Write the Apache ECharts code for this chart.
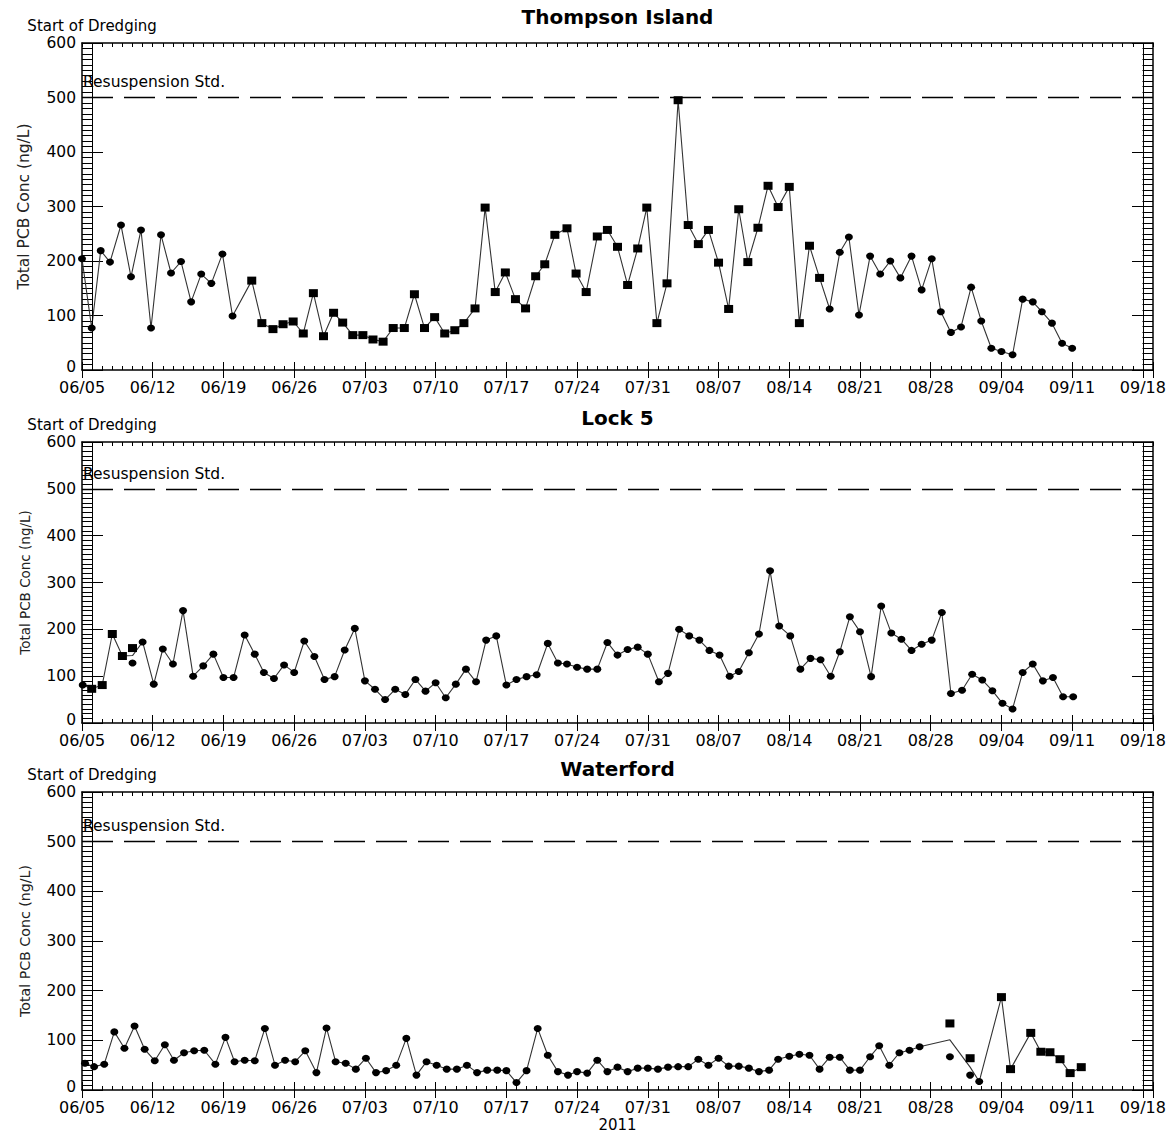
<!DOCTYPE html>
<html><head><meta charset="utf-8">
<script src="https://cdn.jsdelivr.net/npm/echarts@6/dist/echarts.min.js"></script>
<style>html,body{margin:0;padding:0;background:#fff}#c{width:1172px;height:1134px}</style>
</head><body><div id="c"></div>
<script>
// ---------- data (x = days after 06/05/2011) ----------
const xTickLabels = ['06/05','06/12','06/19','06/26','07/03','07/10','07/17','07/24','07/31','08/07','08/14','08/21','08/28','09/04','09/11','09/18'];
const siteNames = ['Thompson Island','Lock 5','Waterford'];
const yearLabel = '2011';
const yAxisName = 'Total PCB Conc (ng/L)';
const RESUSPENSION_STD = 500;
const DREDGING_START_DAY = 1;   // 06/06
const END_LINE_DAY = 105;       // 09/18
const X_MIN = 0, X_MAX = 106;
const Y_MIN = 0, Y_MAX = 600, Y_STEP = 100;

// marks: c = circle on line, s = square on line, n = line vertex only (daily mean),
//        co / so = separate sample not on the line
const thompsonDays = [0,0.96,1.85,2.77,3.86,4.85,5.84,6.83,7.82,8.81,9.8,10.8,11.8,12.8,13.9,14.9,
  16.8,17.8,18.9,19.9,20.9,21.9,22.9,23.9,24.9,25.8,26.8,27.8,28.8,29.8,30.8,31.9,32.9,33.9,34.9,35.9,36.9,37.8,38.9,39.9,40.9,41.9,42.9,43.9,44.9,45.8,46.8,48.0,48.9,49.9,51.0,52.0,53.0,54.0,55.0,55.9,56.9,57.9,59.0,60.0,61.0,62.0,63.0,64.0,65.0,65.9,66.9,67.9,68.9,70.0,71.0,72.0,73.0,
  74.0,75.0,75.9,76.9,78.0,79.0,80.0,81.0,82.1,83.1,84.1,85.0,86.0,87.0,88.0,89.0,90.0,91.0,92.1,93.1,94.1,95.0,96.0,97.0,98.0];
const thompsonVals = [204,77,219,198,266,171,257,77,248,178,199,125,176,159,213,99,
  164,86,75,84,89,67,141,62,105,87,64,64,56,52,77,77,139,77,97,67,73,86,113,298,143,179,130,113,172,194,248,260,177,143,245,257,226,156,223,298,86,159,495,266,231,257,197,112,295,198,261,338,299,336,86,228,169,
  112,216,244,101,209,176,200,169,209,147,204,107,69,79,152,90,40,34,28,130,125,107,86,49,40];
const thompsonMarks = ('cccccccccccccccc' + 'sssssssssssssssssssssssssssssssssssssssssssssssssssssssss' + 'ccccccccccccccccccccccccc').split('');

const lockDays = [0.07,0.96,2.0,3.0,4.0,5.0,5.0,5.0,6.0,7.1,8.0,9.0,10.0,11.0,12.0,13.0,14.0,15.0,16.1,17.1,18.0,19.0,20.0,21.0,22.0,23.0,24.0,25.0,26.0,27.0,28.0,29.0,30.0,31.0,32.0,33.0,34.0,35.0,36.0,37.0,38.0,39.0,40.0,41.0,42.0,43.0,44.0,45.0,46.1,47.1,48.0,49.0,50.0,51.0,52.0,53.0,54.0,55.0,56.0,57.1,58.0,59.1,60.1,61.1,62.1,63.1,64.1,65.0,66.0,67.0,68.1,69.0,70.1,71.1,72.1,73.1,74.1,75.0,76.0,77.0,78.1,79.1,80.1,81.1,82.1,83.1,84.1,85.1,86.0,87.1,88.1,89.1,90.1,91.1,92.1,93.1,94.1,95.1,96.1,97.1,98.1];
const lockVals = [81,73,81,190,143,160,128,144,173,83,158,126,240,100,122,147,97,97,188,147,108,95,124,108,175,142,93,99,156,202,90,72,50,72,61,93,68,86,54,83,115,88,177,186,81,93,99,103,170,128,126,119,115,115,172,145,157,162,147,88,106,200,186,177,155,145,100,110,150,190,325,207,186,115,138,135,100,152,227,195,99,250,192,179,155,168,177,236,63,70,104,92,69,42,30,108,126,90,97,56,56];
const lockMarks = ['c','s','s','s','s','so','co','n'].concat('ccccccccccccccccccccccccccccccccccccccccccccccccccccccccccccccccccccccccccccccccccccccccccccc'.split(''));

const waterfordDays = [0.3,1.2,2.2,3.2,4.2,5.2,6.2,7.2,8.2,9.1,10.1,11.1,12.1,13.2,14.2,15.1,16.1,17.1,18.1,19.1,20.1,21.1,22.1,23.2,24.2,25.1,26.1,27.1,28.1,29.1,30.1,31.1,32.1,33.1,34.1,35.1,36.1,37.1,38.1,39.1,40.1,41.1,42.0,43.0,44.0,45.1,46.1,47.1,48.1,49.0,50.0,51.0,52.0,53.0,54.0,55.0,56.0,57.0,58.0,59.0,60.0,61.0,62.0,63.0,64.0,65.0,66.0,67.0,68.0,68.9,70.0,71.0,72.0,73.0,74.0,75.0,76.0,77.0,78.0,78.9,79.9,80.9,81.9,82.9,
  85.9,85.9,85.9,87.9,87.9,87.9,88.8,91.0,91.9,93.9,94.9,95.8,96.8,97.8,98.9];
const waterfordVals = [54,47,52,117,84,129,82,59,91,60,75,79,80,52,106,57,60,59,124,50,60,57,79,35,125,57,54,42,64,35,39,50,104,30,57,50,42,42,50,35,40,40,39,15,39,124,70,37,30,37,34,60,37,46,37,44,44,42,46,47,47,62,50,64,48,48,44,37,40,62,68,72,70,42,66,66,40,40,67,89,50,75,80,87,
  134,67,101,64,30,46,17,187,42,115,77,76,62,34,46];
const waterfordMarks = 'cccccccccccccccccccccccccccccccccccccccccccccccccccccccccccccccccccccccccccccccccccc'.split('')
  .concat(['so','co','n','so','co','n','c','s','s','s','s','s','s','s','s']);

// ---------- layout / style ----------
const FONT = 'DejaVu Sans';
const BLACK = '#000';
const layout = [
  {top: 43,  height: 327, nameSize: 15.5, titleY: 17,  stdDist: 8},
  {top: 442, height: 281, nameSize: 13.5, titleY: 418, stdDist: 7},
  {top: 792, height: 298, nameSize: 14.2, titleY: 769, stdDist: 8}
];
const sites = [
  {days: thompsonDays, vals: thompsonVals, marks: thompsonMarks},
  {days: lockDays, vals: lockVals, marks: lockMarks},
  {days: waterfordDays, vals: waterfordVals, marks: waterfordMarks}
];
const SHAPE = {c: 'circle', s: 'rect', n: 'none', co: 'circle', so: 'rect'};

const grid = [], xAxis = [], yAxis = [], series = [], graphic = [];
const axLine = {show: true, onZero: false, lineStyle: {color: BLACK, width: 1.5}};
const tickStyle = {color: BLACK, width: 1};

function xLabel(v) {
  const r = Math.round(v);
  if (Math.abs(v - r) > 1e-6 || r % 7 !== 0) return '';
  const k = r / 7;
  return k < xTickLabels.length ? xTickLabels[k] : '';
}
function yLabel(v) {
  return v === Y_MIN ? '{lo|' + v + '}' : String(v);
}

sites.forEach((s, i) => {
  const L = layout[i];
  grid.push({left: 82, right: 19, top: L.top, height: L.height});
  const xb = {gridIndex: i, type: 'value', min: X_MIN, max: X_MAX, splitLine: {show: false}};
  const xi = xAxis.length;
  xAxis.push(Object.assign({}, xb, {position: 'bottom', interval: 1, axisLine: axLine,
    axisTick: {inside: true, length: 4, lineStyle: tickStyle},
    axisLabel: {margin: 9, color: BLACK, fontFamily: FONT, fontSize: 16, formatter: xLabel, showMaxLabel: false}}));
  xAxis.push(Object.assign({}, xb, {position: 'bottom', interval: 7, axisLine: {show: false},
    axisTick: {inside: true, length: 8, lineStyle: tickStyle}, axisLabel: {show: false}}));
  xAxis.push(Object.assign({}, xb, {position: 'top', interval: 1, axisLine: axLine,
    axisTick: {inside: true, length: 4, lineStyle: tickStyle}, axisLabel: {show: false}}));
  xAxis.push(Object.assign({}, xb, {position: 'top', interval: 7, axisLine: {show: false},
    axisTick: {inside: true, length: 8, lineStyle: tickStyle}, axisLabel: {show: false}}));
  const yi = yAxis.length;
  const yb = {gridIndex: i, type: 'value', min: Y_MIN, max: Y_MAX, interval: Y_STEP,
    splitLine: {show: false}, minorSplitLine: {show: false}, axisLine: axLine,
    axisTick: {inside: true, length: 21, lineStyle: tickStyle},
    minorTick: {show: true, splitNumber: 10, length: 10.5, lineStyle: tickStyle}};
  yAxis.push(Object.assign({}, yb, {position: 'left',
    axisLabel: {margin: 6, color: BLACK, fontFamily: FONT, fontSize: 15.5, formatter: yLabel,
      rich: {lo: {color: BLACK, fontFamily: FONT, fontSize: 15.5, padding: [0, 0, 6, 0]}}},
    name: yAxisName, nameLocation: 'middle', nameGap: 50,
    nameTextStyle: {color: '#222', fontFamily: FONT, fontSize: L.nameSize}}));
  yAxis.push(Object.assign({}, yb, {position: 'right', axisLabel: {show: false}}));

  const lineData = [], offData = [];
  s.days.forEach((d, k) => {
    const m = s.marks[k];
    const item = {value: [d, s.vals[k]], symbol: SHAPE[m], symbolSize: m[0] === 'c' ? [8, 7] : [9, 8]};
    if (m === 'co' || m === 'so') offData.push(item); else lineData.push(item);
  });
  series.push({
    type: 'line', xAxisIndex: xi, yAxisIndex: yi, data: lineData, silent: true, animation: false,
    showSymbol: true, symbol: 'circle', z: 3,
    lineStyle: {color: '#333', width: 1.1}, itemStyle: {color: BLACK, opacity: 1},
    markLine: {silent: true, animation: false, symbol: ['none', 'none'], data: [
      {yAxis: RESUSPENSION_STD, lineStyle: {type: [31, 11], color: BLACK, width: 1.4},
        label: {show: true, position: 'insideStartTop', formatter: 'Resuspension Std.', distance: [1, L.stdDist],
          color: BLACK, fontFamily: FONT, fontSize: 15.5}},
      {xAxis: DREDGING_START_DAY, lineStyle: {type: 'solid', color: BLACK, width: 1},
        label: {show: true, position: 'end', formatter: 'Start of Dredging', distance: 10,
          color: BLACK, fontFamily: FONT, fontSize: 15}},
      {xAxis: END_LINE_DAY, lineStyle: {type: 'solid', color: BLACK, width: 1}, label: {show: false}}
    ]}
  });
  series.push({type: 'scatter', xAxisIndex: xi, yAxisIndex: yi, data: offData, silent: true, animation: false,
    itemStyle: {color: BLACK, opacity: 1}, z: 3});

  graphic.push({type: 'text', x: 617.5, y: L.titleY, silent: true,
    style: {text: siteNames[i], textAlign: 'center', textVerticalAlign: 'middle',
      font: 'bold 20px "DejaVu Sans"', fill: BLACK}});
});
graphic.push({type: 'text', x: 617.5, y: 1125, silent: true,
  style: {text: yearLabel, textAlign: 'center', textVerticalAlign: 'middle', font: '15px "DejaVu Sans"', fill: BLACK}});

const chart = echarts.init(document.getElementById('c'), null, {renderer: 'svg', width: 1172, height: 1134});
chart.setOption({animation: false, backgroundColor: '#fff', grid, xAxis, yAxis, series, graphic});
</script>
</body></html>
